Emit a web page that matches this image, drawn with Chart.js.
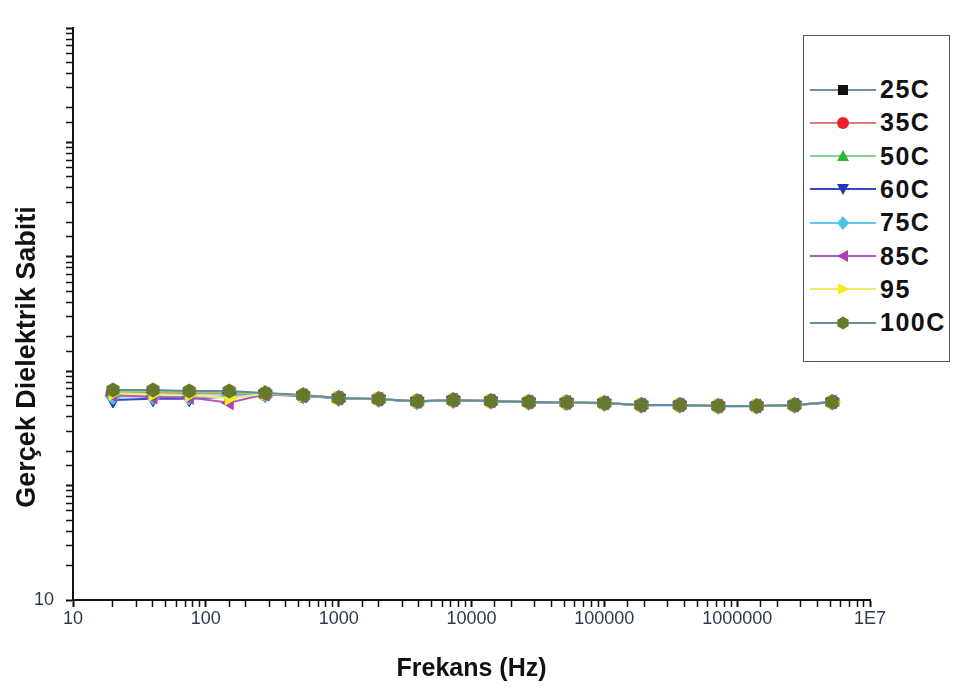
<!DOCTYPE html>
<html>
<head>
<meta charset="utf-8">
<title>Gerçek Dielektrik Sabiti</title>
<script src="https://cdn.jsdelivr.net/npm/chart.js@4.4.1/dist/chart.umd.min.js"></script>
<style>
    html, body { margin: 0; padding: 0; background: #fff; }
    .wrap { position: relative; width: 953px; height: 693px; }
    #legend {
        position: absolute; left: 803px; top: 35px; width: 147px; height: 327px;
        border: 1.5px solid #4a5863; background: #fff; box-sizing: border-box;
    }
    #legend .row { position: absolute; left: 6px; height: 26px; display: flex; align-items: center; }
    #legend .row span { font: bold 25px "Liberation Sans", Arial, sans-serif; letter-spacing: 1.5px; color: #111; margin-left: 4px; }
</style>
</head>
<body>
<div class="wrap">
    <canvas id="dielectric-chart"></canvas>
    <div id="legend"></div>
</div>
<script>
// data
const frequencies = [20, 40, 75, 150, 280, 540, 1000, 2000, 3900, 7300, 14000, 27000, 52000, 100000, 190000, 370000, 720000, 1400000, 2700000, 5200000];
const seriesLabels = ['25C', '35C', '50C', '60C', '75C', '85C', '95', '100C'];
const eps25 = [660, 655, 650, 645, 635, 612, 583, 570, 545, 558, 548, 538, 532, 526, 507, 506, 497, 497, 507, 538];
const eps35 = [650, 648, 640, 636, 632, 610, 582, 570, 545, 558, 548, 537, 532, 526, 506, 506, 496, 496, 506, 537];
const eps50 = [670, 665, 655, 650, 640, 615, 583, 571, 545, 559, 549, 538, 533, 527, 507, 507, 497, 497, 507, 538];
const eps60 = [560, 575, 575, 600, 625, 608, 580, 569, 543, 557, 547, 536, 531, 525, 505, 505, 495, 495, 505, 536];
const eps75 = [600, 600, 595, 605, 628, 610, 581, 570, 544, 558, 548, 537, 532, 526, 506, 506, 496, 496, 506, 537];
const eps85 = [620, 595, 590, 530, 630, 612, 582, 571, 545, 559, 549, 538, 533, 527, 507, 507, 497, 497, 507, 538];
const eps95 = [640, 630, 620, 580, 635, 615, 583, 571, 545, 559, 549, 538, 533, 527, 507, 507, 497, 497, 507, 538];
const eps100 = [685, 685, 672, 672, 645, 619, 583, 572, 545, 560, 549, 538, 533, 527, 507, 507, 497, 497, 507, 538];
const xTickLabels = ['10', '100', '1000', '10000', '100000', '1000000', '1E7'];
const yTickLabels = ['10'];
const xTitle = 'Frekans (Hz)';
const yTitle = 'Gerçek Dielektrik Sabiti';

// styles
const markerColors = ['#111111', '#e8232a', '#2fb43a', '#2038b8', '#4cc3e6', '#a844b4', '#f2ef1a', '#66792c'];
const lineColors = ['#6f8fa6', '#e07a7a', '#86d08a', '#3148c4', '#62c8e8', '#b458bc', '#f0ec6a', '#5f8e9c'];
const markerShapes = ['square', 'circle', 'up', 'down', 'diamond', 'left', 'right', 'hexagon'];

document.addEventListener('DOMContentLoaded', function() {
    initDielectricChart();
    buildLegend();
});

function isDecade(v) {
    const l = Math.log10(v);
    return Math.abs(l - Math.round(l)) < 1e-9;
}

function hexagonImage(color) {
    const c = document.createElement('canvas');
    c.width = 16;
    c.height = 16;
    const g = c.getContext('2d');
    g.fillStyle = color;
    g.beginPath();
    for (let i = 0; i < 6; i++) {
        const a = Math.PI / 6 + i * Math.PI / 3;
        const px = 8 + 7.6 * Math.cos(a);
        const py = 8 + 7.6 * Math.sin(a);
        if (i === 0) g.moveTo(px, py); else g.lineTo(px, py);
    }
    g.closePath();
    g.fill();
    return c;
}

function pointStyleFor(shape, color) {
    switch (shape) {
        case 'square': return { style: 'rect', rotation: 0, radius: 7 };
        case 'circle': return { style: 'circle', rotation: 0, radius: 7 };
        case 'up': return { style: 'triangle', rotation: 0, radius: 8 };
        case 'down': return { style: 'triangle', rotation: 180, radius: 8 };
        case 'diamond': return { style: 'rectRot', rotation: 0, radius: 8 };
        case 'left': return { style: 'triangle', rotation: 270, radius: 8 };
        case 'right': return { style: 'triangle', rotation: 90, radius: 8 };
        default: return { style: hexagonImage(color), rotation: 0, radius: 8 };
    }
}

const yTitlePlugin = {
    id: 'yTitle',
    afterDraw(chart) {
        const ctx = chart.ctx;
        ctx.save();
        ctx.translate(28, 357);
        ctx.rotate(-Math.PI / 2);
        ctx.font = 'bold 27px "Liberation Sans", Arial, sans-serif';
        ctx.fillStyle = '#111';
        ctx.textAlign = 'center';
        ctx.textBaseline = 'middle';
        ctx.fillText(yTitle, 0, 0);
        ctx.restore();
    }
};

function initDielectricChart() {
    const ctx = document.getElementById('dielectric-chart');
    if (!ctx) return;

    const values = [eps25, eps35, eps50, eps60, eps75, eps85, eps95, eps100];
    const datasets = values.map(function(series, i) {
        const ps = pointStyleFor(markerShapes[i], markerColors[i]);
        return {
            label: seriesLabels[i],
            data: series.map((v, k) => ({ x: frequencies[k], y: v })),
            borderColor: lineColors[i],
            borderWidth: 2,
            backgroundColor: markerColors[i],
            pointBackgroundColor: markerColors[i],
            pointBorderColor: markerColors[i],
            pointBorderWidth: 1,
            pointStyle: ps.style,
            pointRotation: ps.rotation,
            pointRadius: ps.radius,
            tension: 0,
            fill: false,
            order: values.length - i
        };
    });

    const tickFont = { family: '"Liberation Sans", Arial, sans-serif', size: 18 };

    new Chart(ctx.getContext('2d'), {
        type: 'line',
        data: { datasets: datasets },
        options: {
            responsive: true,
            maintainAspectRatio: false,
            animation: false,
            layout: { padding: { left: 0, top: 28, right: 83, bottom: 0 } },
            plugins: {
                legend: { display: false },
                tooltip: { enabled: false }
            },
            scales: {
                x: {
                    type: 'logarithmic',
                    min: 10,
                    max: 1e7,
                    border: { display: true, color: '#111', width: 2 },
                    grid: {
                        drawOnChartArea: false,
                        drawTicks: true,
                        tickLength: 7,
                        tickColor: '#111',
                        tickWidth: c => isDecade(c.tick.value) ? 2 : 1.5
                    },
                    ticks: {
                        autoSkip: false,
                        maxRotation: 0,
                        padding: 1,
                        color: '#2b3a4a',
                        font: tickFont,
                        callback: function(v) {
                            if (!isDecade(v)) return '';
                            return xTickLabels[Math.round(Math.log10(v)) - 1];
                        }
                    },
                    title: {
                        display: true,
                        text: xTitle,
                        color: '#111',
                        font: { family: '"Liberation Sans", Arial, sans-serif', size: 25, weight: 'bold' },
                        padding: { top: 0, bottom: 9 }
                    },
                    afterFit: function(scale) { scale.height = 93; }
                },
                y: {
                    type: 'logarithmic',
                    min: 10,
                    max: 1e6,
                    border: { display: true, color: '#111', width: 2 },
                    grid: {
                        drawOnChartArea: false,
                        drawTicks: true,
                        tickLength: 7,
                        tickColor: '#111',
                        tickWidth: c => isDecade(c.tick.value) ? 2 : 1.5
                    },
                    ticks: {
                        autoSkip: false,
                        padding: 12,
                        color: '#2b3a4a',
                        font: tickFont,
                        callback: function(v) {
                            return v === 10 ? yTickLabels[0] : '';
                        }
                    },
                    afterFit: function(scale) { scale.width = 73; }
                }
            }
        },
        plugins: [yTitlePlugin]
    });
}

function markerSvg(shape, color) {
    const cx = 33, cy = 13;
    switch (shape) {
        case 'square': return `<rect x="${cx - 5}" y="${cy - 5}" width="10" height="10" fill="${color}"/>`;
        case 'circle': return `<circle cx="${cx}" cy="${cy}" r="6" fill="${color}"/>`;
        case 'up': return `<polygon points="${cx},${cy - 6} ${cx + 6},${cy + 5} ${cx - 6},${cy + 5}" fill="${color}"/>`;
        case 'down': return `<polygon points="${cx},${cy + 6} ${cx + 6},${cy - 5} ${cx - 6},${cy - 5}" fill="${color}"/>`;
        case 'diamond': return `<polygon points="${cx},${cy - 7} ${cx + 6},${cy} ${cx},${cy + 7} ${cx - 6},${cy}" fill="${color}"/>`;
        case 'left': return `<polygon points="${cx - 6},${cy} ${cx + 5},${cy - 6} ${cx + 5},${cy + 6}" fill="${color}"/>`;
        case 'right': return `<polygon points="${cx + 6},${cy} ${cx - 5},${cy - 6} ${cx - 5},${cy + 6}" fill="${color}"/>`;
        default: {
            let pts = [];
            for (let i = 0; i < 6; i++) {
                const a = Math.PI / 6 + i * Math.PI / 3;
                pts.push((cx + 6.5 * Math.cos(a)).toFixed(1) + ',' + (cy + 6.5 * Math.sin(a)).toFixed(1));
            }
            return `<polygon points="${pts.join(' ')}" fill="${color}"/>`;
        }
    }
}

function buildLegend() {
    const box = document.getElementById('legend');
    if (!box) return;
    seriesLabels.forEach(function(label, i) {
        const row = document.createElement('div');
        row.className = 'row';
        row.style.top = (40.5 + 33.3 * i) + 'px';
        row.innerHTML =
            `<svg width="66" height="26"><line x1="0" y1="13" x2="66" y2="13" stroke="${lineColors[i]}" stroke-width="2"/>` +
            markerSvg(markerShapes[i], markerColors[i]) + '</svg>' +
            `<span>${label}</span>`;
        box.appendChild(row);
    });
}
</script>
</body>
</html>
